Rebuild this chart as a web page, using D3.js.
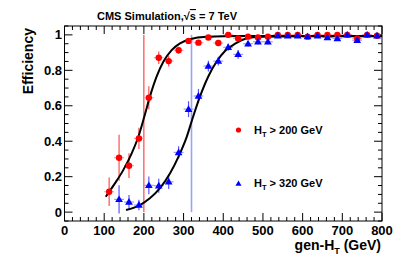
<!DOCTYPE html>
<html><head><meta charset="utf-8">
<script src="https://cdn.jsdelivr.net/npm/d3@7"></script>
<style>
body{margin:0;background:#fff;}
text{font-family:"Liberation Sans",Arial,Helvetica,sans-serif;font-weight:bold;fill:#000;}
</style></head>
<body><svg id="c" width="407" height="261"></svg>
<script>
// ---- data ----
const binCenters = [112.5,137.5,162.5,187.5,212.5,237.5,262.5,287.5,312.5,337.5,362.5,387.5,412.5,437.5,462.5,487.5,512.5,537.5,562.5,587.5,612.5,637.5,662.5,687.5,712.5,737.5,762.5,787.5];
const binHalfWidth = 12.5;
const effHT200 = [0.115,0.307,0.262,0.416,0.645,0.871,0.852,0.913,0.966,0.956,0.985,0.954,1.0,0.98,0.99,0.985,0.99,1.0,1.0,1.0,0.99,1.0,1.0,1.0,1.0,0.98,1.0,0.995];
const errHT200 = [0.08,0.13,0.07,0.06,0.065,0.035,0.03,0.02,0.015,0.012,0.01,0.012,0.008,0.01,0.008,0.008,0.008,0.005,0.005,0.005,0.006,0.005,0.005,0.005,0.005,0.01,0.005,0.006];
const binCentersHT320 = binCenters.slice(1);
const effHT320 = [0.072,0.057,0.04,0.151,0.149,0.171,0.337,0.581,0.655,0.824,0.852,0.93,0.89,0.95,0.961,0.961,0.995,0.995,0.995,0.99,0.995,0.985,0.98,1.0,0.97,1.0,0.995];
const errHT320 = [0.08,0.04,0.03,0.05,0.04,0.04,0.035,0.045,0.04,0.03,0.025,0.02,0.025,0.015,0.015,0.015,0.008,0.008,0.008,0.01,0.008,0.01,0.012,0.008,0.015,0.008,0.01];
// fit curves
const fitHT200X = [104,127,148,169,186,201,215,232,249,270,291,316,358,443,600,800];
const fitHT200Y = [0.087,0.162,0.237,0.33,0.425,0.538,0.65,0.764,0.848,0.914,0.952,0.975,0.989,0.993,0.993,0.993];
const fitHT320X = [155,190,215,240,266,287,308,324,341,362,383,405,430,459,492,600,800];
const fitHT320Y = [0.012,0.04,0.078,0.134,0.219,0.312,0.425,0.538,0.65,0.764,0.848,0.91,0.95,0.98,0.99,0.992,0.992];
const thresholds = [200,320];
const xTicks = [0,100,200,300,400,500,600,700,800];
const yTicks = [0,0.2,0.4,0.6,0.8,1];
const legendLabels = ["200","320"];

// ---- layout ----
const svg = d3.select("#c");
const L=64.5,R=382,T=26,B=221;
const x = d3.scaleLinear().domain([0,800]).range([L,R]);
const y = d3.scaleLinear().domain([-0.05,1.05]).range([B,T]);

// frame
svg.append("rect").attr("x",L).attr("y",T).attr("width",R-L).attr("height",B-T)
  .attr("fill","none").attr("stroke","#000").attr("stroke-width",1);

// ticks
const g = svg.append("g").attr("stroke","#000").attr("stroke-width",1);
const xMinor = d3.range(0,801,20);
xMinor.forEach(v=>{
  const maj = v%100===0; const len = maj?8:4;
  g.append("line").attr("x1",x(v)).attr("x2",x(v)).attr("y1",B).attr("y2",B-len);
  g.append("line").attr("x1",x(v)).attr("x2",x(v)).attr("y1",T).attr("y2",T+len);
});
const yMinor = d3.range(-1,22).map(i=>i*0.05);
yMinor.forEach(v=>{
  const maj = Math.abs(Math.round(v*5)-v*5)<1e-6; const len = maj?8:4;
  g.append("line").attr("y1",y(v)).attr("y2",y(v)).attr("x1",L).attr("x2",L+len);
  g.append("line").attr("y1",y(v)).attr("y2",y(v)).attr("x1",R).attr("x2",R-len);
});

// tick labels
svg.append("g").selectAll("text").data(xTicks).join("text")
  .attr("x",d=>x(d)).attr("y",234.5).attr("text-anchor","middle").attr("font-size",13).text(d=>d);
svg.append("g").selectAll("text").data(yTicks).join("text")
  .attr("x",62).attr("y",d=>y(d)+4.6).attr("text-anchor","end").attr("font-size",13).text(d=>d===0?"0":d===1?"1":d3.format(".1f")(d));

// axis titles
svg.append("text").attr("transform","translate(33,28) rotate(-90)").attr("text-anchor","end")
  .attr("font-size",14).text("Efficiency");
const xt = svg.append("text").attr("x",381).attr("y",250).attr("text-anchor","end").attr("font-size",14);
xt.append("tspan").text("gen-H");
xt.append("tspan").attr("font-size",9).attr("dy",4).text("T");
xt.append("tspan").attr("dy",-4).text(" (GeV)");

// title
const tt = svg.append("text").attr("x",97).attr("y",20).attr("font-size",11);
tt.append("tspan").text("CMS Simulation,√");
tt.append("tspan").attr("text-decoration","overline").text("s");
tt.append("tspan").text(" = 7 TeV");

// threshold lines
svg.append("line").attr("x1",x(thresholds[0])).attr("x2",x(thresholds[0])).attr("y1",y(0)).attr("y2",y(1))
  .attr("stroke","#ff2020").attr("stroke-width",1);
svg.append("line").attr("x1",x(thresholds[1])).attr("x2",x(thresholds[1])).attr("y1",y(0)).attr("y2",y(1))
  .attr("stroke","#9da0ff").attr("stroke-width",1.6);

// error bars
function errors(xs,ys,es,col,lightCol){
  const eg = svg.append("g");
  xs.forEach((xv,i)=>{
    eg.append("line").attr("x1",x(xv-binHalfWidth)).attr("x2",x(xv+binHalfWidth)).attr("y1",y(ys[i])).attr("y2",y(ys[i]))
      .attr("stroke",lightCol).attr("stroke-width",1.2);
    eg.append("line").attr("x1",x(xv)).attr("x2",x(xv)).attr("y1",y(ys[i]-es[i])).attr("y2",y(ys[i]+es[i]))
      .attr("stroke",col).attr("stroke-width",1.2).attr("opacity",0.85);
  });
}
errors(binCenters,effHT200,errHT200,"#ff3030","#ff9c9c");
errors(binCentersHT320,effHT320,errHT320,"#3a3aff","#9c9cff");

// fit curves
const line = d3.line().x(d=>x(d[0])).y(d=>y(d[1])).curve(d3.curveMonotoneX);
svg.append("path").attr("d",line(fitHT200X.map((v,i)=>[v,fitHT200Y[i]]))).attr("fill","none").attr("stroke","#000").attr("stroke-width",2);
svg.append("path").attr("d",line(fitHT320X.map((v,i)=>[v,fitHT320Y[i]]))).attr("fill","none").attr("stroke","#000").attr("stroke-width",2);

// markers
const tri = d3.symbol().type(d3.symbolTriangle).size(26);
svg.append("g").selectAll("circle").data(binCenters).join("circle")
  .attr("cx",d=>x(d)).attr("cy",(d,i)=>y(effHT200[i])).attr("r",3.2).attr("fill","#ff0000");
svg.append("g").selectAll("path").data(binCentersHT320).join("path")
  .attr("d",tri).attr("transform",(d,i)=>`translate(${x(d)},${y(effHT320[i])+0.5})`).attr("fill","#0000ff");

// legend
const triL = d3.symbol().type(d3.symbolTriangle).size(16);
svg.append("circle").attr("cx",238.5).attr("cy",130).attr("r",2.6).attr("fill","#ff0000");
svg.append("path").attr("d",triL).attr("transform","translate(238.5,184)").attr("fill","#0000ff");
[[133.5,legendLabels[0]],[186.5,legendLabels[1]]].forEach(([yy,lab])=>{
  const t = svg.append("text").attr("x",254).attr("y",yy).attr("font-size",11);
  t.append("tspan").text("H");
  t.append("tspan").attr("font-size",7.5).attr("dy",3).text("T");
  t.append("tspan").attr("dy",-3).text(" > "+lab+" GeV");
});
</script></body></html>
